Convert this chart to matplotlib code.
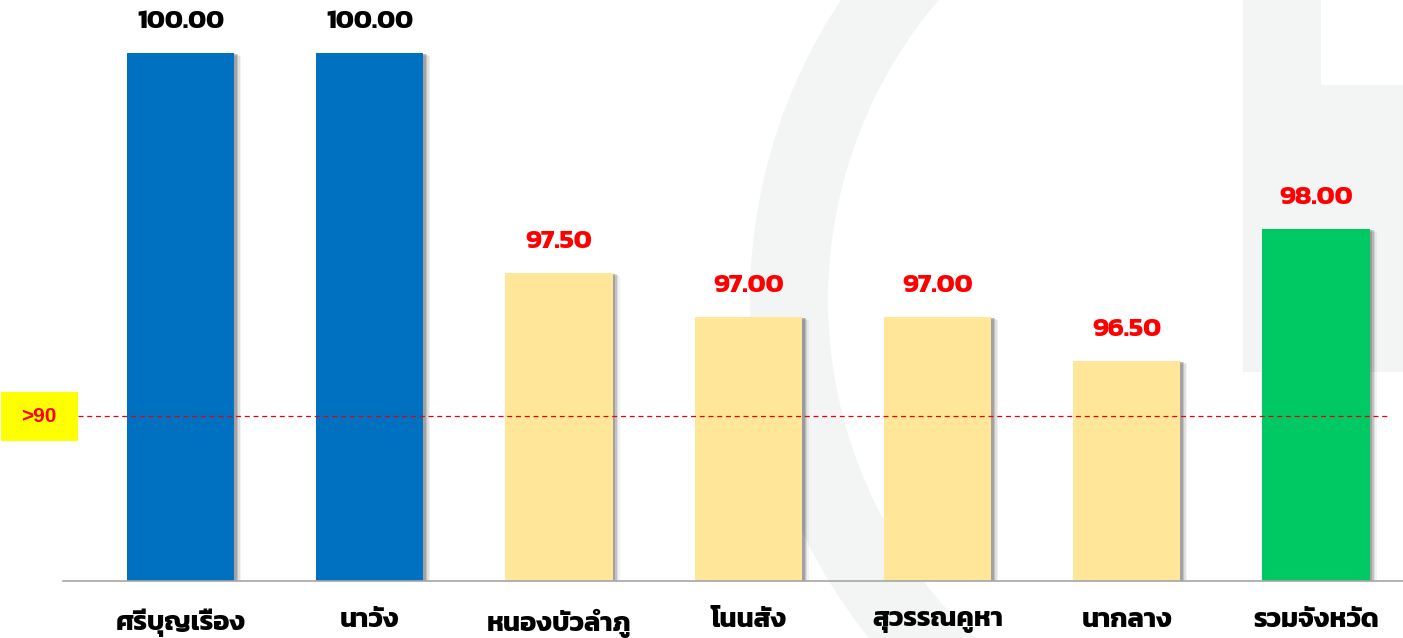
import matplotlib

matplotlib.use("Agg")  # headless
import matplotlib.pyplot as plt
import matplotlib.patches as mpatches
import matplotlib.patheffects as pe
from matplotlib import font_manager
from matplotlib.transforms import Affine2D, blended_transform_factory

# data
districts = ["ศรีบุญเรือง", "นาวัง", "หนองบัวลำภู", "โนนสัง", "สุวรรณคูหา", "นากลาง", "รวมจังหวัด"]
scores = [100.00, 100.00, 97.50, 97.00, 97.00, 96.50, 98.00]
bar_colors = ["#0070c0", "#0070c0", "#ffe699", "#ffe699", "#ffe699", "#ffe699", "#00c964"]
label_colors = ["#000000", "#000000", "#ff0000", "#ff0000", "#ff0000", "#ff0000", "#ff0000"]
target_text = ">90"
target_line_y = 95.875  # where the dashed target line sits on the (truncated) axis

W, H = 1403, 638


def pick_font(names):
    for n in names:
        try:
            font_manager.findfont(n, fallback_to_default=False)
            return n
        except Exception:
            continue
    return "DejaVu Sans"


THAI = pick_font(["Kanit", "Prompt", "Mitr", "Bai Jamjuree", "Chakra Petch"])
plt.rcParams["font.family"] = [THAI, "DejaVu Sans"]

fig = plt.figure(figsize=(W / 100, H / 100), dpi=100, facecolor="white")

# faint logo watermark in the background (pixel coords, origin top-left)
px = Affine2D().scale(1 / W, -1 / H).translate(0, 1) + fig.transFigure
wm = "#f3f4f4"
for p in [
    mpatches.Wedge((1290, 300), 540, 95, 265, width=78),
    mpatches.Rectangle((1243, 0), 78, 372),
    mpatches.Rectangle((1321, 85), 90, 287),
    mpatches.Wedge((1460, 650), 220, 90, 180, width=60),
]:
    p.set(transform=px, facecolor=wm, edgecolor="none", zorder=-10)
    fig.patches.append(p)

ax = fig.add_axes([63 / W, (H - 581) / H, 1 - 63 / W, 581 / H])
ax.set_facecolor("none")
ax.set_zorder(1)

x = list(range(len(districts)))
shadow = [
    pe.SimplePatchShadow(offset=(5, -2), shadow_rgbFace="#000000", alpha=0.05),
    pe.SimplePatchShadow(offset=(4, -1.5), shadow_rgbFace="#000000", alpha=0.08),
    pe.SimplePatchShadow(offset=(3, -1), shadow_rgbFace="#000000", alpha=0.13),
    pe.SimplePatchShadow(offset=(2, -0.5), shadow_rgbFace="#000000", alpha=0.16),
    pe.Normal(),
]
bars = ax.bar(x, scores, width=0.566, color=bar_colors, zorder=2)
for b in bars:
    b.set_path_effects(shadow)

for xi, v, c in zip(x, scores, label_colors):
    ax.annotate(f"{v:.2f}", (xi, v), xytext=(0, 22), textcoords="offset points",
                ha="center", va="center", color=c, fontsize=19.5, fontweight="bold",
                family=[THAI, "DejaVu Sans"], zorder=4)

ax.set_ylim(94, 94 + 581 / 88)
ax.set_xlim((63 - 180.5) / 189.25, (W - 180.5) / 189.25)

# target line and its yellow tag on the left
ax.axhline(target_line_y, xmin=(78 - 63) / (W - 63), xmax=(1388 - 63) / (W - 63),
           color="#e8000b", lw=0.9, ls=(0, (4, 3)), zorder=3)
tag_tr = blended_transform_factory(fig.transFigure, ax.transData)
fig.patches.append(mpatches.Rectangle((1 / W, target_line_y - 0.28), 77 / W, 0.557,
                                      transform=tag_tr, facecolor="#ffff00",
                                      edgecolor="none", zorder=3))
fig.text(39 / W, target_line_y, target_text, transform=tag_tr, ha="center", va="center",
         color="#ff0000", fontsize=15, fontweight="bold", family="Liberation Sans", zorder=4)

ax.set_xticks(x)
ax.set_xticklabels(districts, fontsize=19.5, fontweight="bold")
ax.tick_params(axis="x", length=0, pad=20)
ax.set_yticks([])
for s in ["left", "right", "top"]:
    ax.spines[s].set_visible(False)
ax.spines["bottom"].set_color("#a6a6a6")
ax.spines["bottom"].set_linewidth(1.2)

fig.savefig("out.png", dpi=100, facecolor="white")
